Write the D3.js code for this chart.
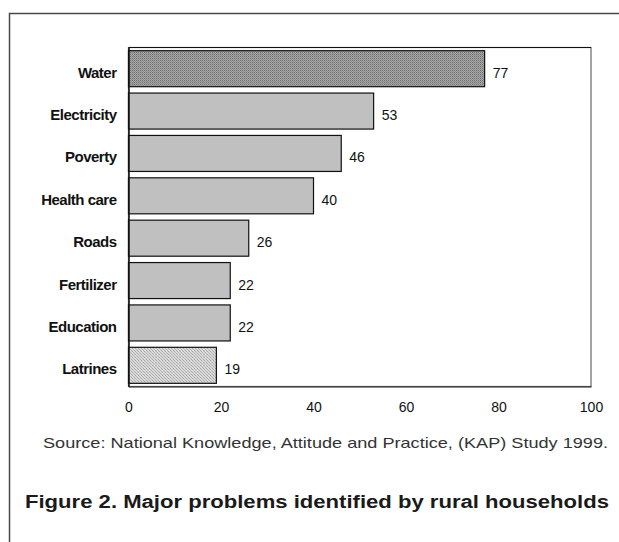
<!DOCTYPE html>
<html><head><meta charset="utf-8">
<script src="https://cdn.jsdelivr.net/npm/d3@7"></script>
<style>
html,body{margin:0;padding:0;background:#fff;}
svg{display:block;}
text{font-family:"Liberation Sans",Arial,sans-serif;}
</style></head>
<body><svg id="c" width="619" height="542"></svg>
<script>
const categories = ["Water","Electricity","Poverty","Health care","Roads","Fertilizer","Education","Latrines"];
const values = [77,53,46,40,26,22,22,19];
const xTicks = [0,20,40,60,80,100];
const sourceText = "Source: National Knowledge, Attitude and Practice, (KAP) Study 1999.";
const titleText = "Figure 2. Major problems identified by rural households";

const svg = d3.select("#c");
const defs = svg.append("defs");
// dotted dark pattern (Water)
const p1 = defs.append("pattern").attr("id","pDark").attr("width",2).attr("height",2).attr("patternUnits","userSpaceOnUse");
p1.append("rect").attr("width",2).attr("height",2).attr("fill","#a8a8a8");
p1.append("rect").attr("width",1).attr("height",1).attr("fill","#6e6e6e");
p1.append("rect").attr("x",1).attr("y",1).attr("width",1).attr("height",1).attr("fill","#8a8a8a");
// light hatch pattern (Latrines)
const p2 = defs.append("pattern").attr("id","pLight").attr("width",3).attr("height",3).attr("patternUnits","userSpaceOnUse");
p2.append("rect").attr("width",3).attr("height",3).attr("fill","#dadada");
p2.append("rect").attr("x",0).attr("y",0).attr("width",1).attr("height",1).attr("fill","#a8a8a8");
p2.append("rect").attr("x",1).attr("y",1).attr("width",1).attr("height",1).attr("fill","#b8b8b8");
p2.append("rect").attr("x",2).attr("y",2).attr("width",1).attr("height",1).attr("fill","#a8a8a8");

// outer frame (top and left)
svg.append("path").attr("d","M9.5,542V13.5H619").attr("fill","none").attr("stroke","#4a4a4a").attr("stroke-width",1.5);

const L = 128.5, R = 591, T = 47.5, B = 386.5;
const x = d3.scaleLinear().domain([0,100]).range([L,R]);
const y = d3.scaleBand().domain(categories).range([T,B]).paddingInner(0.15).paddingOuter(0.075);

// plot area box
svg.append("rect").attr("x",L).attr("y",T).attr("width",R-L).attr("height",B-T)
  .attr("fill","none").attr("stroke","#666").attr("stroke-width",1.2);
svg.append("line").attr("x1",L).attr("x2",R).attr("y1",T).attr("y2",T).attr("stroke","#111").attr("stroke-width",1.2);

const fills = d => d==="Water" ? "url(#pDark)" : d==="Latrines" ? "url(#pLight)" : "#c0c0c0";

svg.append("g").selectAll("rect").data(categories).join("rect")
  .attr("x",x(0)).attr("y",d=>y(d))
  .attr("width",(d,i)=>x(values[i])-x(0)).attr("height",y.bandwidth())
  .attr("fill",fills).attr("stroke","#111").attr("stroke-width",1.2);

// value labels
svg.append("g").selectAll("text").data(categories).join("text")
  .attr("x",(d,i)=>x(values[i])+8).attr("y",d=>y(d)+y.bandwidth()/2+9)
  .attr("font-size",14).attr("fill","#111").text((d,i)=>values[i]);

// y axis
const ya = svg.append("g").attr("transform",`translate(${L},0)`).call(d3.axisLeft(y).tickSize(0).tickPadding(12));
ya.select(".domain").attr("stroke","#111").attr("stroke-width",1.5);
ya.selectAll("text").attr("font-size",15).attr("font-weight","bold").attr("fill","#111")
  .attr("font-family","'Liberation Sans',Arial,sans-serif").attr("letter-spacing","-0.5px")
  .attr("dy",null).attr("y",9);

// x axis
const xa = svg.append("g").attr("transform",`translate(0,${B})`).call(d3.axisBottom(x).tickValues(xTicks).tickSize(0).tickPadding(16));
xa.select(".domain").attr("stroke","#222").attr("stroke-width",1.2);
xa.selectAll("text").attr("font-size",14).attr("fill","#111").attr("font-family","'Liberation Sans',Arial,sans-serif");

svg.append("text").attr("x",43).attr("y",448).attr("font-size",14.5).attr("fill","#333")
  .attr("textLength",565).attr("lengthAdjust","spacingAndGlyphs").text(sourceText);
svg.append("text").attr("x",25).attr("y",508).attr("font-size",17.5).attr("font-weight","bold").attr("fill","#1a1a1a")
  .attr("textLength",584).attr("lengthAdjust","spacingAndGlyphs").text(titleText);
</script></body></html>
